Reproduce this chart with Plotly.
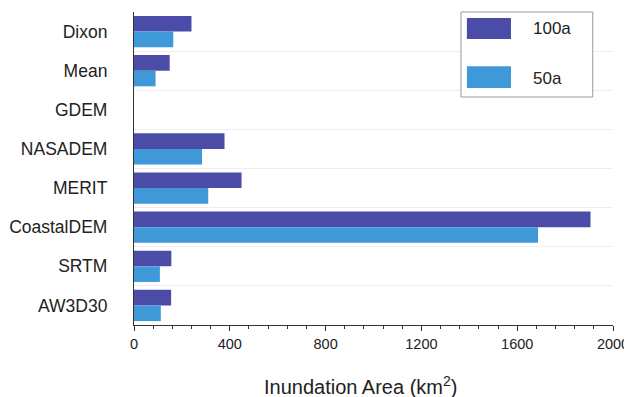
import plotly.graph_objects as go

categories = ["Dixon", "Mean", "GDEM", "NASADEM", "MERIT", "CoastalDEM", "SRTM", "AW3D30"]
series_names = ["100a", "50a"]
values_100a = [240, 149, 0, 378, 449, 1906, 156, 155]
values_50a = [164, 90, 0, 284, 310, 1687, 108, 112]
x_tick_vals = [0, 400, 800, 1200, 1600, 2000]
x_tick_text = ["0", "400", "800", "1200", "1600", "2000"]
x_title = "Inundation Area (km<sup>2</sup>)"

colors = ["#4b4ba8", "#3f98d8"]
FONT = "Liberation Sans, Arial, sans-serif"
TXT = "#222222"

fig = go.Figure()
for name, vals, c in zip(series_names, [values_100a, values_50a], colors):
    fig.add_trace(go.Bar(y=categories, x=vals, name=name, orientation="h",
                         marker=dict(color=c, line=dict(width=0)), showlegend=False))

# page body has an 8px margin; figure sized/margined to compensate
fig.update_layout(
    width=624, height=389,
    margin=dict(l=125.5, r=18.7, t=4, b=72, autoexpand=False),
    paper_bgcolor="white", plot_bgcolor="white",
    barmode="group", bargap=0.2, bargroupgap=0,
    font=dict(family=FONT, color=TXT),
)
fig.update_xaxes(
    automargin=False,
    range=[0, 2000], tickvals=x_tick_vals, ticktext=x_tick_text,
    showgrid=False, zeroline=False,
    showline=True, linecolor="#333333", linewidth=1.2,
    ticks="outside", ticklen=5, tickcolor="#333333",
    minor=dict(dtick=80, ticks="outside", ticklen=3, tickcolor="#333333"),
    tickfont=dict(size=14.5, color=TXT),
)
fig.update_yaxes(
    automargin=False,
    autorange="reversed", tickson="boundaries",
    showgrid=True, gridcolor="#eeeeee", gridwidth=1,
    showline=True, linecolor="#333333", linewidth=1.2,
    ticks="", ticklabelstandoff=22,
    tickfont=dict(size=17.5, color=TXT),
)

# x-axis title placed as annotation for exact position
fig.add_annotation(xref="paper", yref="paper", x=0.472, y=-0.192, text=x_title, showarrow=False,
                   xanchor="center", yanchor="middle", font=dict(size=20, color=TXT, family=FONT))

# legend box drawn manually to reproduce large swatches
fig.add_shape(type="rect", xref="paper", yref="paper", x0=0.6826, x1=0.9577, y0=0.7284, y1=1.0,
              line=dict(color="#9a9a9a", width=1), fillcolor="white", layer="above")
sw = [(0.914, 0.981, 0.946), (0.757, 0.827, 0.786)]
for name, c, (y0, y1, yt) in zip(series_names, colors, sw):
    fig.add_shape(type="rect", xref="paper", yref="paper", x0=0.695, x1=0.787, y0=y0, y1=y1,
                  line=dict(width=0), fillcolor=c, layer="above")
    fig.add_annotation(xref="paper", yref="paper", x=0.8285, y=yt, text=name, showarrow=False,
                       xanchor="left", yanchor="middle", font=dict(size=17, color=TXT, family=FONT))

fig.write_html("out.html")
